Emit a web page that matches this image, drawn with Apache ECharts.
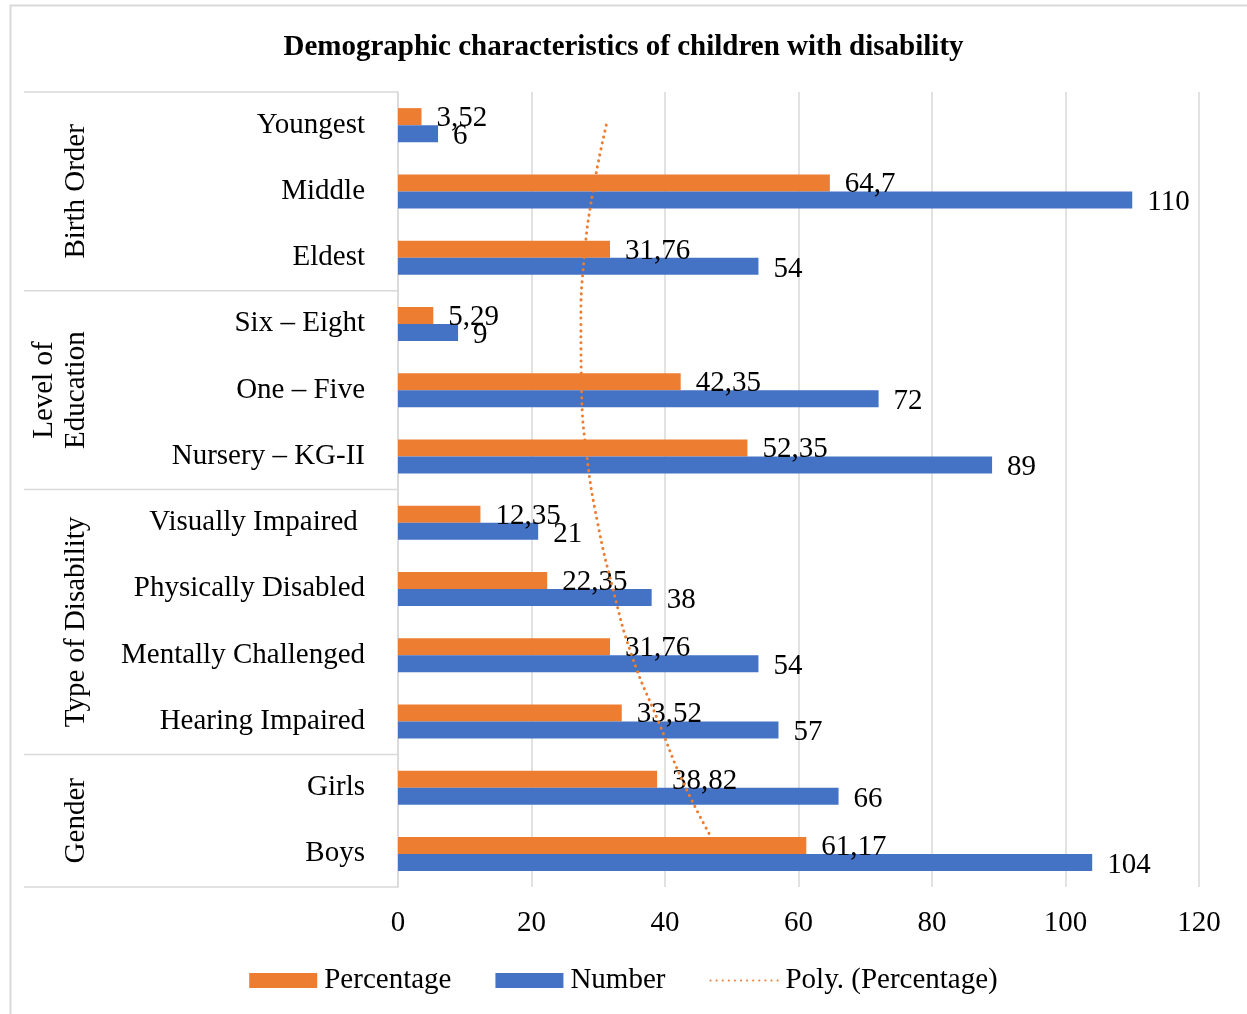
<!DOCTYPE html>
<html>
  <head>
    <meta charset="utf-8" />
    <title>Demographic characteristics of children with disability</title>
    <style>
      html, body { margin: 0; padding: 0; background: #fff; }
    </style>
  </head>
  <body>
    <script type="text/javascript" src="https://cdn.jsdelivr.net/npm/echarts@6/dist/echarts.min.js"></script>

    <div id="container" style="width: 1247px;height: 1014px;"></div>

    <script type="text/javascript">
    // categories, top to bottom
    var categories = ['Youngest', 'Middle', 'Eldest', 'Six \u2013 Eight', 'One \u2013 Five', 'Nursery \u2013 KG-II',
        'Visually Impaired ', 'Physically Disabled', 'Mentally Challenged', 'Hearing Impaired', 'Girls', 'Boys'];
    var percentage = [3.52, 64.7, 31.76, 5.29, 42.35, 52.35, 12.35, 22.35, 31.76, 33.52, 38.82, 61.17];
    var number = [6, 110, 54, 9, 72, 89, 21, 38, 54, 57, 66, 104];
    // polynomial trendline of percentage
    var polyTrend = [31.2, 29.2, 27.9, 27.4, 27.5, 28.3, 29.9, 32.2, 35.0, 39.0, 43.1, 48.3];
    // group labels: name lines, first and last category index
    var groups = [
        { lines: ['Birth Order'], from: 0, to: 2 },
        { lines: ['Level of', 'Education'], from: 3, to: 5 },
        { lines: ['Type of Disability'], from: 6, to: 9 },
        { lines: ['Gender'], from: 10, to: 11 }
    ];
    var xTicks = [0, 20, 40, 60, 80, 100, 120];

    var FONT = '"Liberation Serif", "Times New Roman", serif';
    var FS = 29;
    var ORANGE = '#ED7D31';
    var BLUE = '#4472C4';
    var GRID_COLOR = '#d9d9d9';

    var myChart = echarts.init(document.getElementById('container'));

    function commaLabel(p) {
        return String(p.value).replace('.', ',');
    }

    var option = {
        backgroundColor: '#fff',
        animation: false,
        textStyle: { fontFamily: FONT },
        title: {
            text: 'Demographic characteristics of children with disability',
            left: 'center',
            top: 28,
            textStyle: { fontFamily: FONT, fontSize: FS, fontWeight: 'bold', color: '#000' }
        },
        legend: {
            bottom: 14,
            left: 'center',
            itemWidth: 68,
            itemHeight: 15,
            itemGap: 44,
            textStyle: { fontFamily: FONT, fontSize: FS, color: '#000', padding: [0, 0, 0, 2] },
            data: [
                { name: 'Percentage', icon: 'rect' },
                { name: 'Number', icon: 'rect' },
                { name: 'Poly. (Percentage)', itemStyle: { color: 'rgba(0,0,0,0)', borderColor: 'rgba(0,0,0,0)', borderWidth: 0 } }
            ]
        },
        grid: { left: 398, right: 48, top: 92, bottom: 127, containLabel: false },
        xAxis: {
            type: 'value',
            min: xTicks[0],
            max: xTicks[xTicks.length - 1],
            interval: 20,
            axisLine: { show: false },
            axisTick: { show: false },
            splitLine: { lineStyle: { color: GRID_COLOR, width: 1.5 } },
            axisLabel: { fontFamily: FONT, fontSize: FS, color: '#000', margin: 22 }
        },
        yAxis: {
            type: 'category',
            inverse: true,
            data: categories,
            axisLine: { show: true, lineStyle: { color: GRID_COLOR, width: 1.5 } },
            axisTick: { show: false },
            axisLabel: { fontFamily: FONT, fontSize: FS, color: '#000', margin: 33 }
        },
        series: [
            {
                name: 'Percentage',
                type: 'bar',
                data: percentage,
                barWidth: 17,
                barGap: '0%',
                itemStyle: { color: ORANGE },
                label: {
                    show: true, position: 'right', distance: 15, offset: [0, 2],
                    fontFamily: FONT, fontSize: FS, color: '#000',
                    formatter: commaLabel
                },
                z: 2
            },
            {
                name: 'Number',
                type: 'bar',
                data: number,
                barWidth: 17,
                barGap: '0%',
                itemStyle: { color: BLUE },
                label: {
                    show: true, position: 'right', distance: 15, offset: [0, 3],
                    fontFamily: FONT, fontSize: FS, color: '#000',
                    formatter: commaLabel
                },
                z: 2
            },
            {
                name: 'Poly. (Percentage)',
                type: 'line',
                data: polyTrend,
                smooth: true,
                symbol: 'none',
                lineStyle: { color: ORANGE, width: 3, type: [0.1, 6], cap: 'round' },
                itemStyle: { color: ORANGE },
                z: 5
            }
        ]
    };
    myChart.setOption(option);

    // frame and the multi-level category table on the left
    function drawTable() {
        var c0 = myChart.convertToPixel({ yAxisIndex: 0 }, 0);
        var c1 = myChart.convertToPixel({ yAxisIndex: 0 }, 1);
        var band = c1 - c0;
        var axisX = myChart.convertToPixel({ xAxisIndex: 0 }, 0);
        var tableLeft = 24;
        var els = [{
            type: 'rect',
            shape: { x: 10.5, y: 5.5, width: 1400, height: 1200 },
            style: { fill: 'none', stroke: GRID_COLOR, lineWidth: 2 },
            silent: true
        }];
        groups.forEach(function (g, gi) {
            var yTop = c0 + (g.from - 0.5) * band;
            var yBot = c0 + (g.to + 0.5) * band;
            if (gi === 0) {
                els.push({ type: 'line', shape: { x1: tableLeft, y1: yTop, x2: axisX, y2: yTop },
                    style: { stroke: GRID_COLOR, lineWidth: 1.5 }, silent: true });
            }
            els.push({ type: 'line', shape: { x1: tableLeft, y1: yBot, x2: axisX, y2: yBot },
                style: { stroke: GRID_COLOR, lineWidth: 1.5 }, silent: true });
            var mid = (yTop + yBot) / 2;
            var n = g.lines.length;
            g.lines.forEach(function (t, li) {
                els.push({
                    type: 'text',
                    x: 76 - (n - 1 - li) * 32,
                    y: mid,
                    rotation: Math.PI / 2,
                    style: {
                        text: t, fontFamily: FONT, fontSize: FS, fill: '#000',
                        align: 'center', verticalAlign: 'middle'
                    },
                    silent: true
                });
            });
        });
        myChart.setOption({ graphic: els });
    }
    drawTable();

    window.addEventListener('resize', myChart.resize);
    </script>
  </body>
</html>
